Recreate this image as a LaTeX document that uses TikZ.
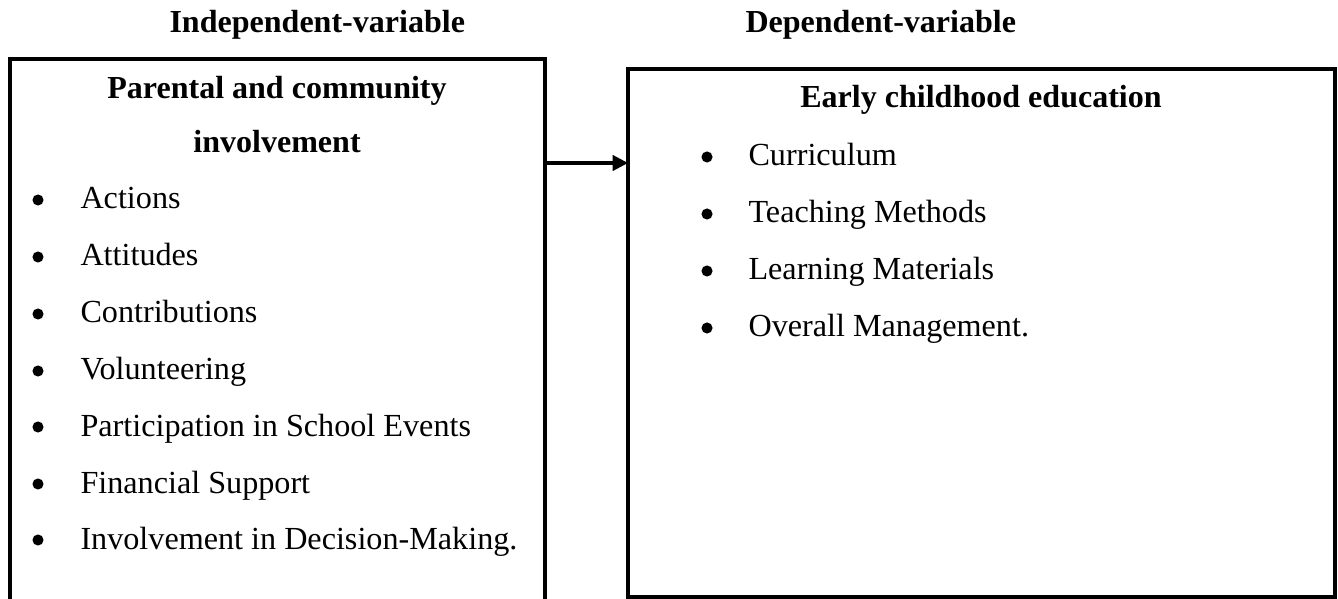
\documentclass[tikz,border=0pt]{standalone}
\usepackage{fontspec}
\setmainfont{Liberation Serif}
\usetikzlibrary{arrows.meta}

\begin{document}
\begin{tikzpicture}[x=0.387pt,y=-0.387pt,
  box/.style={line width=1.2pt},
  item/.style={anchor=base west,inner sep=0pt,font=\fontsize{12.45}{14}\selectfont},
  head/.style={anchor=base,inner sep=0pt,font=\fontsize{12.4}{14}\selectfont\bfseries},
  dot/.style={circle,fill=black,inner sep=0pt,minimum size=4.3pt}]

\useasboundingbox (0,0) rectangle (1338,599);

% Titles
\node[head,anchor=base west] (indep) at (169,33) {Independent-variable};
\node[head,anchor=base west] (dep) at (745,33) {Dependent-variable};

% Boxes
\draw[box] (10,605) -- (10,59) -- (545,59) -- (545,605);
\draw[box] (628,69) rectangle (1335,597);

% Arrow between the boxes
\coordinate (src) at (545,163);
\coordinate (dst) at (628,163);
\draw[box,-{Triangle[length=6pt,width=6pt]}] (src) -- (dst);

% Left box: parental and community involvement
\node[head] (parhead) at (277,99) {Parental and community};
\node[head] (parhead2) at (277,153) {involvement};

\node[dot] (l1) at (38,200) {};
\node[item] (t1) at (80,209) {Actions};
\node[dot] (l2) at (38,257) {};
\node[item] (t2) at (80,266) {Attitudes};
\node[dot] (l3) at (38,314) {};
\node[item] (t3) at (80,323) {Contributions};
\node[dot] (l4) at (38,371) {};
\node[item] (t4) at (80,380) {Volunteering};
\node[dot] (l5) at (38,427) {};
\node[item] (t5) at (80,436) {Participation in School Events};
\node[dot] (l6) at (38,484) {};
\node[item] (t6) at (80,493) {Financial Support};
\node[dot] (l7) at (38,540) {};
\node[item] (t7) at (80,549) {Involvement in Decision-Making.};

% Right box: early childhood education
\node[head] (ecehead) at (981,108) {Early childhood education};

\node[dot] (r1) at (707,157) {};
\node[item] (s1) at (748,166) {Curriculum};
\node[dot] (r2) at (707,214) {};
\node[item] (s2) at (748,223) {Teaching Methods};
\node[dot] (r3) at (707,271) {};
\node[item] (s3) at (748,280) {Learning Materials};
\node[dot] (r4) at (707,328) {};
\node[item] (s4) at (748,337) {Overall Management.};

\end{tikzpicture}
\end{document}
